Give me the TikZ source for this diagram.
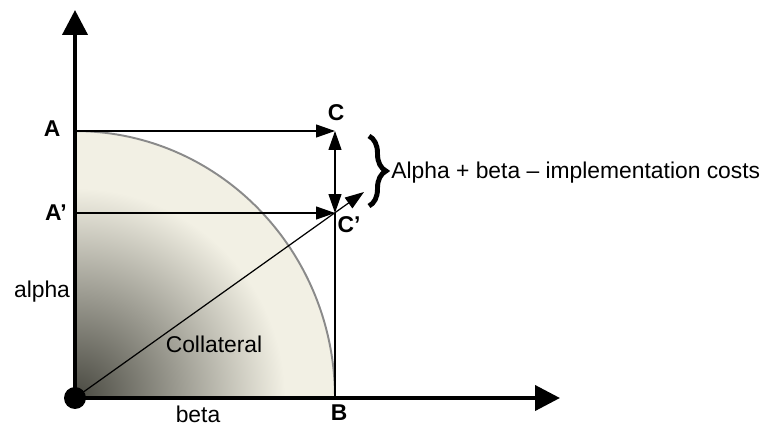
\documentclass[tikz,border=0pt]{standalone}
\usepackage{fontspec}
\setmainfont{Liberation Sans}
\usetikzlibrary{arrows.meta,decorations.pathreplacing}
\definecolor{shadedark}{RGB}{72,72,64}
\definecolor{shadecream}{RGB}{242,240,228}
\definecolor{arcgray}{RGB}{138,138,138}

\begin{document}
\begin{tikzpicture}[x=0.02cm,y=0.02cm,line join=miter,
  font=\fontsize{13}{15}\selectfont,
  axis/.style={line width=2.3pt,-{Triangle[length=0.5cm,width=0.5cm]}},
  thin/.style={line width=0.7pt},
  thinarrow/.style={line width=0.7pt,-{Triangle[length=0.38cm,width=0.26cm]}},
  dblarrow/.style={line width=0.7pt,{Triangle[length=0.38cm,width=0.26cm]}-{Triangle[length=0.38cm,width=0.26cm]}},
  lbl/.style={anchor=base,inner sep=0pt,font=\fontsize{13}{15}\selectfont\bfseries},
  txt/.style={anchor=base,inner sep=0pt}]
  \useasboundingbox (0,0) rectangle (762,427);
  \coordinate (O) at (75,29);
  \coordinate (Ytip) at (75,417);
  \coordinate (Xtip) at (560,29);
  \coordinate (A) at (75,296);
  \coordinate (C) at (335,296);
  \coordinate (Ap) at (75,214);
  \coordinate (Cp) at (335,214);
  \coordinate (B) at (335,29);
  \coordinate (D) at (364,235);
  \coordinate (BrT) at (369,291);
  \coordinate (BrB) at (369,221);
  % shaded collateral area
  \begin{scope}
    \clip (O) -- (B) arc[start angle=0,end angle=90,x radius=5.2cm,y radius=5.34cm] -- cycle;
    \fill[shadecream] (O) rectangle (C);
    \shade[inner color=shadedark,outer color=shadecream] (O) circle (4.2cm);
  \end{scope}
  \draw[arcgray,line width=1.1pt] (B) arc[start angle=0,end angle=90,x radius=5.2cm,y radius=5.34cm];
  % connectors
  \draw[thinarrow] (A) -- (C);
  \draw[thinarrow] (Ap) -- (Cp);
  \draw[thin] (B) -- (Cp);
  \draw[dblarrow] (Cp) -- (C);
  \draw[thinarrow] (O) -- (D);
  % axes
  \draw[axis] (O) -- (Ytip);
  \draw[axis] (O) -- (Xtip);
  \fill (O) circle (0.22cm);
  % brace
  \draw[line width=2.8pt,decorate,decoration={brace,amplitude=0.34cm}] (BrT) -- (BrB);
  \node[anchor=base west,inner sep=0pt] (cost) at (391,249) {Alpha + beta -- implementation costs};
  % labels
  \node[lbl] (labA) at (52,291) {A};
  \node[lbl] (labAp) at (56,207) {A'};
  \node[lbl] (labC) at (336,307) {C};
  \node[lbl] (labCp) at (349,195) {C'};
  \node[lbl] (labB) at (339,7) {B};
  \node[txt] (alpha) at (42,130) {alpha};
  \node[txt] (beta) at (198,5) {beta};
  \node[txt] (coll) at (214,75) {Collateral};
\end{tikzpicture}
\end{document}
